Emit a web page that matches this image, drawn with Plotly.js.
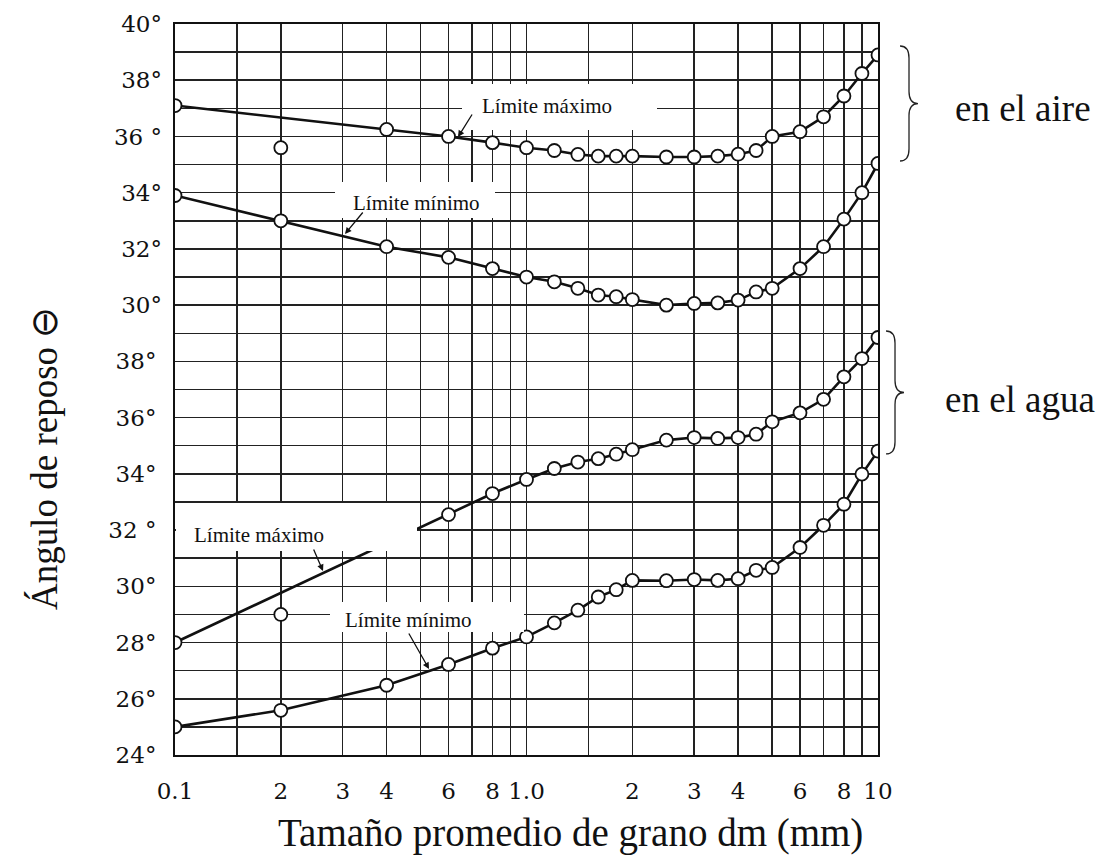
<!DOCTYPE html>
<html>
<head>
<meta charset="utf-8">
<script src="https://cdn.plot.ly/plotly-3.0.1.min.js"></script>
<style>html,body{margin:0;padding:0;background:#fff;}#chart{width:1106px;height:858px;}</style>
</head>
<body>
<div id="chart"></div>
<script>
// ---- data (grain size in mm, angle of repose in degrees) ----
const airMaxX = [0.1,0.4,0.6,0.8,1.0,1.2,1.4,1.6,1.8,2.0,2.5,3.0,3.5,4.0,4.5,5.0,6.0,7.0,8.0,9.0,10];
const airMaxY = [37.1,36.25,36.0,35.78,35.6,35.5,35.36,35.3,35.3,35.3,35.27,35.27,35.3,35.37,35.5,36.0,36.17,36.7,37.44,38.24,38.9];
const airLoneX = [0.2];
const airLoneY = [35.6];
const airMinX = [0.1,0.2,0.4,0.6,0.8,1.0,1.2,1.4,1.6,1.8,2.0,2.5,3.0,3.5,4.0,4.5,5.0,6.0,7.0,8.0,9.0,10];
const airMinY = [33.9,33.0,32.08,31.7,31.3,31.0,30.83,30.6,30.36,30.3,30.2,30.0,30.06,30.08,30.18,30.47,30.6,31.3,32.08,33.06,34.0,35.04];
const waterMaxX = [0.1,0.6,0.8,1.0,1.2,1.4,1.6,1.8,2.0,2.5,3.0,3.5,4.0,4.5,5.0,6.0,7.0,8.0,9.0,10];
const waterMaxY = [28.0,32.55,33.3,33.8,34.19,34.42,34.54,34.7,34.86,35.2,35.29,35.26,35.29,35.41,35.85,36.17,36.65,37.45,38.1,38.85];
const waterLoneX = [0.2];
const waterLoneY = [29.0];
const waterMinX = [0.1,0.2,0.4,0.6,0.8,1.0,1.2,1.4,1.6,1.8,2.0,2.5,3.0,3.5,4.0,4.5,5.0,6.0,7.0,8.0,9.0,10];
const waterMinY = [25.0,25.59,26.48,27.22,27.8,28.2,28.7,29.15,29.62,29.88,30.21,30.2,30.24,30.21,30.27,30.57,30.67,31.38,32.17,32.92,33.99,34.81];

// ---- tick labels ----
const xTickVals = [0.1,0.2,0.3,0.4,0.6,0.8,1,2,3,4,6,8,10];
const xTickText = ["0.1","2","3","4","6","8","1.0","2","3","4","6","8","10"];
const xMinorVals = [0.15,0.5,0.7,0.9,1.5,5,7,9];
const waterTickVals = [24,26,28,30,32,34,36,38];
const waterTickText = ["24°","26°","28°","30°","32 °","34°","36°","38°"];
const airTickVals = [30,32,34,36,38,40];
const airTickText = ["30°","32°","34°","36 °","38°","40°"];
const yMinorVals = [25,27,29,31,33,35,37,39,40,41,42,43,44,45,46,47,48,49];

// ---- geometry helpers for decorations (pixel -> paper) ----
const PL = 175, PR = 878, PT = 24, PB = 755;
const px = x => (x - PL) / (PR - PL);
const py = y => (PB - y) / (PB - PT);
const P = (x, y) => px(x).toFixed(4) + ',' + py(y).toFixed(4);

const serif = 'Liberation Serif, Times New Roman, serif';
const tickFont = {family: 'DejaVu Serif, serif', size: 23, color: '#111'};
const lineStyle = {color: '#111', width: 2.6};
const markerStyle = {symbol: 'circle', size: 13, color: '#fff', line: {color: '#111', width: 1.8}};

function curve(x, y, yaxis, mode) {
  return {x: x, y: y, yaxis: yaxis, type: 'scatter', mode: mode,
          line: lineStyle, marker: markerStyle, showlegend: false, hoverinfo: 'skip'};
}

const traces = [
  curve(airMaxX, airMaxY, 'y2', 'lines+markers'),
  curve(airLoneX, airLoneY, 'y2', 'markers'),
  curve(airMinX, airMinY, 'y2', 'lines+markers'),
  curve(waterMaxX, waterMaxY, 'y', 'lines+markers'),
  curve(waterLoneX, waterLoneY, 'y', 'markers'),
  curve(waterMinX, waterMinY, 'y', 'lines+markers')
];

function box(x0, y0, x1, y1) {
  return {type: 'rect', xref: 'paper', yref: 'paper', x0: px(x0), x1: px(x1), y0: py(y1), y1: py(y0),
          fillcolor: '#fff', line: {width: 0}, layer: 'above'};
}
function brace(xl, yt, xtip, yb) {
  const xm = (xl + xtip) / 2, ym = (yt + yb) / 2;
  const path = 'M' + P(xl, yt) + ' Q' + P(xm, yt) + ' ' + P(xm, yt + 12) +
               ' L' + P(xm, ym - 12) + ' Q' + P(xm, ym) + ' ' + P(xtip, ym) +
               ' Q' + P(xm, ym) + ' ' + P(xm, ym + 12) +
               ' L' + P(xm, yb - 12) + ' Q' + P(xm, yb) + ' ' + P(xl, yb);
  return {type: 'path', xref: 'paper', yref: 'paper', path: path, line: {color: '#222', width: 1.3}, layer: 'above'};
}
function label(text, cx, cy, size) {
  return {text: text, xref: 'paper', yref: 'paper', x: px(cx), y: py(cy), xanchor: 'center', yanchor: 'middle',
          showarrow: false, font: {family: serif, size: size || 21, color: '#111'}};
}
function arrow(hx, hy, tx, ty) {
  return {text: '', xref: 'paper', yref: 'paper', x: px(hx), y: py(hy), ax: tx - hx, ay: ty - hy,
          showarrow: true, arrowhead: 2, arrowsize: 1, arrowwidth: 1.3, arrowcolor: '#111'};
}

const layout = {
  width: 1106, height: 858,
  margin: {l: PL, r: 1106 - PR, t: PT, b: 858 - PB, pad: 0},
  paper_bgcolor: '#fff', plot_bgcolor: '#fff',
  showlegend: false,
  xaxis: {
    type: 'log', range: [-1, 1],
    tickmode: 'array', tickvals: xTickVals, ticktext: xTickText,
    ticks: '', ticklabelstandoff: 14, tickfont: tickFont,
    showgrid: true, gridcolor: '#222', gridwidth: 1.5,
    minor: {tickmode: 'array', tickvals: xMinorVals, showgrid: true, gridcolor: '#222', gridwidth: 1.5, ticks: ''},
    showline: true, mirror: true, linecolor: '#111', linewidth: 2, zeroline: false
  },
  yaxis: {
    range: [24, 50],
    tickmode: 'array', tickvals: waterTickVals, ticktext: waterTickText,
    ticks: '', ticklabelstandoff: 12, tickfont: tickFont,
    showgrid: true, gridcolor: '#222', gridwidth: 1.5,
    minor: {tickmode: 'array', tickvals: yMinorVals, showgrid: true, gridcolor: '#222', gridwidth: 1.5, ticks: ''},
    showline: true, mirror: true, linecolor: '#111', linewidth: 2, zeroline: false
  },
  yaxis2: {
    range: [14, 40], overlaying: 'y', side: 'left', anchor: 'x',
    tickmode: 'array', tickvals: airTickVals, ticktext: airTickText,
    ticks: '', ticklabelstandoff: 12, tickfont: tickFont,
    showgrid: false, showline: false, zeroline: false
  },
  shapes: [
    box(462, 84, 657, 130),
    box(335, 182, 495, 218),
    box(176, 503, 417, 551),
    box(330, 602, 524, 632),
    brace(900, 46, 918, 161),
    brace(886, 331, 904, 454)
  ],
  annotations: [
    label('Límite máximo', 547, 106),
    label('Límite mínimo', 416, 203),
    label('Límite máximo', 259, 535),
    label('Límite mínimo', 408, 620),
    arrow(458, 137, 473, 113),
    arrow(345, 234, 364, 211),
    arrow(323, 571, 313, 548),
    arrow(429, 669, 408, 632),
    {text: 'en el aire', xref: 'paper', yref: 'paper', x: px(953), y: py(109), xanchor: 'left', yanchor: 'middle',
     showarrow: false, font: {family: serif, size: 37, color: '#111'}},
    {text: 'en el agua', xref: 'paper', yref: 'paper', x: px(943), y: py(399), xanchor: 'left', yanchor: 'middle',
     showarrow: false, font: {family: serif, size: 37, color: '#111'}},
    {text: 'Ángulo de reposo ⊖', xref: 'paper', yref: 'paper', x: px(44), y: py(459), xanchor: 'center', yanchor: 'middle',
     textangle: -90, showarrow: false, font: {family: serif, size: 37, color: '#111'}},
    {text: 'Tamaño promedio de grano dm (mm)', xref: 'paper', yref: 'paper', x: px(570), y: py(833), xanchor: 'center', yanchor: 'middle',
     showarrow: false, font: {family: serif, size: 39, color: '#111'}}
  ]
};

Plotly.newPlot('chart', traces, layout, {staticPlot: true, displayModeBar: false});
</script>
</body>
</html>
